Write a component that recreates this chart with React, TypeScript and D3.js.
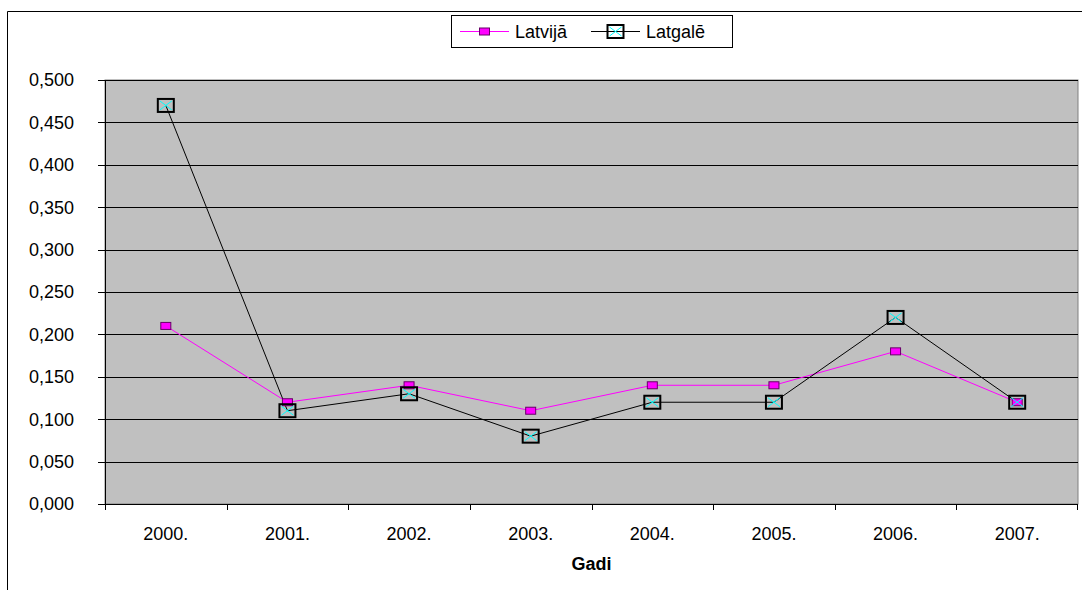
import React from "react";
import * as d3 from "d3";

const years = ["2000.", "2001.", "2002.", "2003.", "2004.", "2005.", "2006.", "2007."];
const latvija = [0.21, 0.12, 0.14, 0.11, 0.14, 0.14, 0.18, 0.12];
const latgale = [0.47, 0.11, 0.13, 0.08, 0.12, 0.12, 0.22, 0.12];
const yTicks = [0, 0.05, 0.1, 0.15, 0.2, 0.25, 0.3, 0.35, 0.4, 0.45, 0.5];

const W = 1082, H = 590;
const L = 105, R = 1078, T = 80, B = 504;

export default function App() {
  const x = d3.scaleBand<string>().domain(years).range([L, R]).padding(0);
  const y = d3.scaleLinear().domain([0, 0.5]).range([B, T]);
  const cx = (i: number) => (x(years[i]) as number) + x.bandwidth() / 2;
  const line = d3.line<number>().x((_, i) => cx(i)).y((d) => y(d));
  const fmt = (v: number) => v.toFixed(3).replace(".", ",");
  const font = "Liberation Sans, Arial, sans-serif";
  const fs = 18;

  const boxMarker = (px: number, py: number, key: string | number) => (
    <g key={key}>
      <rect x={px - 8} y={py - 6.5} width={16} height={13} fill="none" stroke="#000" strokeWidth={2} />
      <line x1={px - 6} y1={py - 4.5} x2={px + 6} y2={py + 4.5} stroke="#00FFFF" strokeWidth={1} />
      <line x1={px - 6} y1={py + 4.5} x2={px + 6} y2={py - 4.5} stroke="#00FFFF" strokeWidth={1} />
    </g>
  );
  const sqMarker = (px: number, py: number, key: string | number) => (
    <rect key={key} x={px - 5} y={py - 3.5} width={10} height={7} fill="#FF00FF" stroke="#660066" strokeWidth={1} />
  );

  return (
    <svg width={W} height={H} style={{ position: "absolute", left: 0, top: 0, background: "#fff" }} fontFamily={font}>
      <path d={`M7.5,${H} L7.5,11.5 L${W},11.5`} fill="none" stroke="#000" strokeWidth={1} />
      <rect x={L} y={T} width={R - L} height={B - T} fill="#C0C0C0" stroke="#808080" strokeWidth={1} />
      {yTicks.map((t) => (
        <g key={t}>
          {t > 0 && <line x1={L} x2={R} y1={Math.round(y(t)) + 0.5} y2={Math.round(y(t)) + 0.5} stroke="#000" strokeWidth={1} />}
          <line x1={98} x2={L} y1={Math.round(y(t)) + 0.5} y2={Math.round(y(t)) + 0.5} stroke="#000" />
          <text x={74} y={y(t)} dy="0.35em" textAnchor="end" fontSize={fs} fill="#000">{fmt(t)}</text>
        </g>
      ))}
      <line x1={L + 0.5} x2={L + 0.5} y1={T} y2={B} stroke="#000" />
      <line x1={L} x2={R} y1={B + 0.5} y2={B + 0.5} stroke="#000" />
      {years.map((yr, i) => (
        <g key={yr}>
          <line x1={Math.round(x(yr) as number) + 0.5} x2={Math.round(x(yr) as number) + 0.5} y1={B} y2={B + 6} stroke="#000" />
          <text x={cx(i)} y={534} dy="0.35em" textAnchor="middle" fontSize={fs} fill="#000">{yr}</text>
        </g>
      ))}
      <line x1={R - 0.5} x2={R - 0.5} y1={B} y2={B + 6} stroke="#000" />
      <text x={(L + R) / 2} y={564} dy="0.35em" textAnchor="middle" fontSize={fs} fontWeight="bold" fill="#000">Gadi</text>

      <path d={line(latvija) as string} fill="none" stroke="#FF00FF" strokeWidth={1} />
      <path d={line(latgale) as string} fill="none" stroke="#000" strokeWidth={1} />
      {latvija.map((v, i) => sqMarker(cx(i), y(v), "a" + i))}
      {latgale.map((v, i) => boxMarker(cx(i), y(v), "b" + i))}

      <rect x={451.5} y={15.5} width={281} height={32} fill="#fff" stroke="#000" strokeWidth={1} />
      <line x1={460} x2={509} y1={31.5} y2={31.5} stroke="#FF00FF" />
      {sqMarker(484.5, 31.5, "la")}
      <text x={515} y={31.5} dy="0.35em" fontSize={fs} fill="#000">Latvijā</text>
      <line x1={591} x2={640} y1={31.5} y2={31.5} stroke="#000" />
      {boxMarker(615.5, 31.5, "lb")}
      <text x={646} y={31.5} dy="0.35em" fontSize={fs} fill="#000">Latgalē</text>
    </svg>
  );
}
